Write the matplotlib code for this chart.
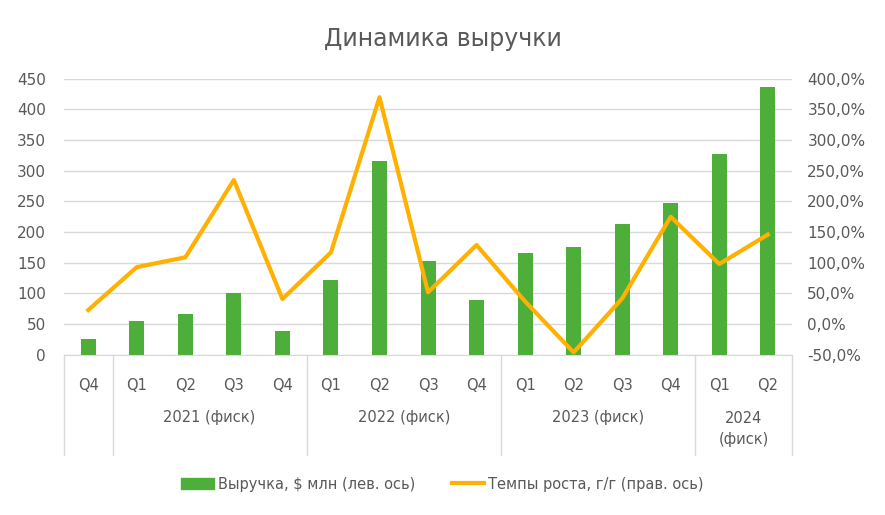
import matplotlib
matplotlib.use("Agg")
import numpy as np
from matplotlib import pyplot as plt
from matplotlib.patches import Patch
from matplotlib.lines import Line2D
from matplotlib.transforms import blended_transform_factory

plt.rcParams["font.family"] = ["DejaVu Sans"]

quarters = ["Q4", "Q1", "Q2", "Q3", "Q4", "Q1", "Q2", "Q3", "Q4",
            "Q1", "Q2", "Q3", "Q4", "Q1", "Q2"]
years = ["", "2021 (фиск)", "2022 (фиск)", "2023 (фиск)", "2024\n(фиск)"]
year_sizes = [1, 4, 4, 4, 2]
revenue = [26, 55, 67, 100, 39, 122, 316, 153, 90, 166, 176, 214, 248, 328, 437]
growth = [23, 93, 109, 235, 41, 117, 370, 52, 129, 37, -46, 42, 175, 98, 146]

green = "#4EAE3A"
orange = "#FFB000"
grey = "#595959"
grid_c = "#D9D9D9"

fig = plt.figure(figsize=(8.85, 5.15), dpi=100)
ax = fig.add_axes([0.0723, 0.311, 0.8227, 0.536])
x = np.arange(len(quarters))

ax.bar(x, revenue, width=0.31, color=green, zorder=2)
ax.set_ylim(0, 450)
ax.set_yticks(range(0, 451, 50))
ax.set_xlim(-0.5, len(quarters) - 0.5)
ax.set_xticks([])
ax.yaxis.grid(True, color=grid_c, linewidth=1)
ax.set_axisbelow(True)
for s in ["top", "right", "left"]:
    ax.spines[s].set_visible(False)
ax.spines["bottom"].set_color(grid_c)
ax.tick_params(axis="y", length=0, labelsize=11, labelcolor=grey, pad=13)

ax2 = ax.twinx()
ax2.plot(x, growth, color=orange, linewidth=3, zorder=3)
ax2.set_ylim(-50, 400)
ax2.set_yticks(range(-50, 401, 50))
ax2.set_yticklabels([f"{v},0%" for v in range(-50, 401, 50)])
ax2.tick_params(axis="y", length=0, labelsize=11, labelcolor=grey, pad=11)
for s in ax2.spines.values():
    s.set_visible(False)

# category table under the axis
tr = blended_transform_factory(ax.transData, ax.transAxes)
for i, q in enumerate(quarters):
    ax.text(i, -0.11, q, transform=tr, ha="center", va="center",
            fontsize=10.5, color=grey)
edge = -0.5
ax.plot([edge, edge], [0, -0.362], transform=tr, color=grid_c, lw=1, clip_on=False)
for name, n in zip(years, year_sizes):
    mid = edge + n / 2
    y = -0.27 if "\n" in name else -0.228
    ax.text(mid, y, name, transform=tr, ha="center", va="center",
            fontsize=10.5, color=grey, linespacing=1.5)
    edge += n
    ax.plot([edge, edge], [0, -0.362], transform=tr, color=grid_c, lw=1, clip_on=False)

fig.text(0.5, 0.925, "Динамика выручки", ha="center", va="center",
         fontsize=17, color=grey)

handles = [Patch(color=green), Line2D([], [], color=orange, lw=3)]
labels = ["Выручка, $ млн (лев. ось)", "Темпы роста, г/г (прав. ось)"]
fig.legend(handles, labels, loc="center", bbox_to_anchor=(0.5, 0.06), ncol=2,
           frameon=False, fontsize=10.5, labelcolor=grey, handlelength=2.2,
           handletextpad=0.3, columnspacing=2.5)

fig.savefig("out.png", dpi=100)
